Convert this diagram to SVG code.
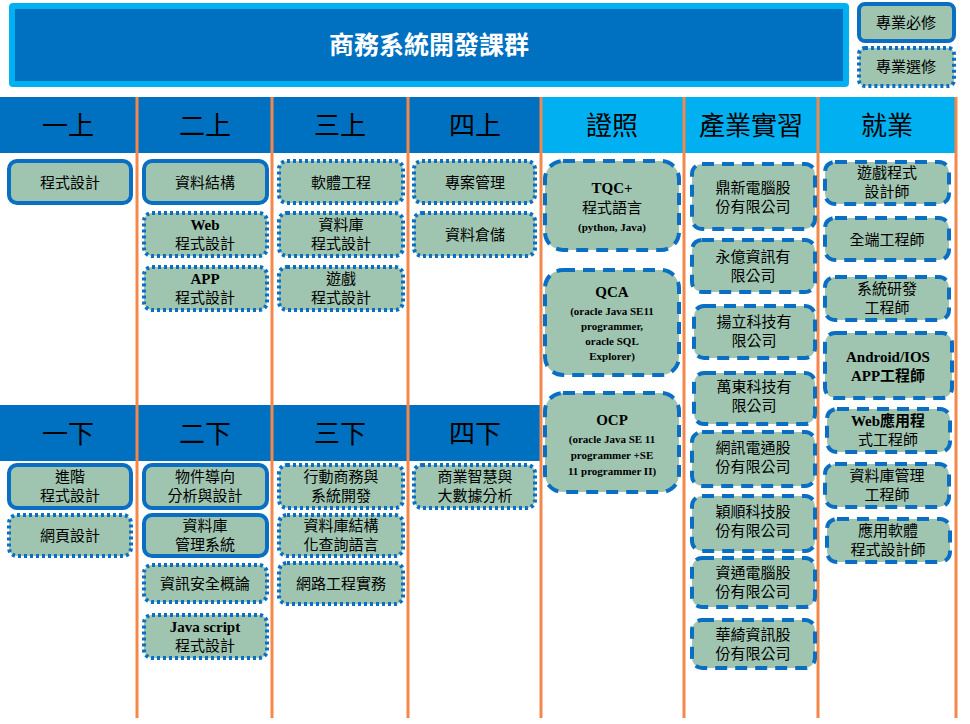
<svg xmlns="http://www.w3.org/2000/svg" width="970" height="724" viewBox="0 0 970 724">
<style>
text{font-family:"Liberation Serif","Noto Sans CJK TC",serif;fill:#000;text-anchor:middle}
.t{font-family:"Noto Sans CJK TC",sans-serif;font-size:15px}
.b{font-weight:bold;font-size:15px}
.s{font-weight:bold;font-size:11px}
.h{font-family:"Noto Sans CJK TC",sans-serif;font-size:26px}
.n rect{fill:#9fc5b0;stroke:#0a6fc2;stroke-width:4}
.d rect{stroke-dasharray:3 3}
.e rect{stroke-dasharray:12 8}
.dark{fill:#0070c0}
.light{fill:#00b0f0}
</style>
<rect width="970" height="724" fill="#fff"/>
<g id="title"><rect x="9" y="3" width="840" height="84" rx="4" fill="#00b0f0"/><rect x="15" y="9" width="828" height="72" fill="#0070c0"/>
<text x="429" y="54" style="font-family:'Noto Sans CJK TC',sans-serif;font-size:25px;fill:#fff;font-weight:bold">商務系統開發課群</text></g>
<g id="legend1" class="n"><rect x="859" y="4" width="95" height="37" rx="6"/><text class="t" x="906" y="28">專業必修</text></g>
<g id="legend2" class="n d"><rect x="859" y="48" width="95" height="38" rx="6"/><text class="t" x="906" y="72">專業選修</text></g>
<g id="headers">
<rect class="dark" x="0" y="97" width="541" height="56"/><rect class="light" x="541" y="97" width="415" height="56"/>
<rect class="dark" x="0" y="405" width="541" height="56"/>
<text class="h" x="68" y="135">一上</text><text class="h" x="205" y="135">二上</text><text class="h" x="340" y="135">三上</text><text class="h" x="475" y="135">四上</text>
<text class="h" x="612" y="135">證照</text><text class="h" x="751" y="135">產業實習</text><text class="h" x="887" y="135">就業</text>
<text class="h" x="68" y="443">一下</text><text class="h" x="205" y="443">二下</text><text class="h" x="340" y="443">三下</text><text class="h" x="475" y="443">四下</text>
</g>
<g id="lines" stroke="#f4884a" stroke-width="3">
<line x1="137" y1="97" x2="137" y2="718"/><line x1="272" y1="97" x2="272" y2="718"/><line x1="408" y1="97" x2="408" y2="718"/><line x1="541" y1="97" x2="541" y2="718"/><line x1="684" y1="97" x2="684" y2="718"/><line x1="818" y1="97" x2="818" y2="718"/><line x1="956" y1="97" x2="956" y2="718"/>
</g>
<g id="c1a" class="n"><rect x="9" y="161" width="122" height="42" rx="8"/><text class="t" x="70" y="188">程式設計</text></g>
<g id="c1b" class="n"><rect x="9" y="465" width="122" height="43" rx="8"/><text class="t" x="70" y="482">進階</text><text class="t" x="70" y="501">程式設計</text></g>
<g id="c1c" class="n d"><rect x="9" y="515" width="122" height="41" rx="8"/><text class="t" x="70" y="541">網頁設計</text></g>
<g id="c2a" class="n"><rect x="144" y="161" width="123" height="42" rx="8"/><text class="t" x="205" y="188">資料結構</text></g>
<g id="c2b" class="n d"><rect x="144" y="213" width="123" height="43" rx="8"/><text class="b" x="205" y="230">Web</text><text class="t" x="205" y="249">程式設計</text></g>
<g id="c2c" class="n d"><rect x="144" y="267" width="123" height="43" rx="8"/><text class="b" x="205" y="284">APP</text><text class="t" x="205" y="303">程式設計</text></g>
<g id="c2d" class="n"><rect x="144" y="465" width="123" height="43" rx="8"/><text class="t" x="205" y="482">物件導向</text><text class="t" x="205" y="501">分析與設計</text></g>
<g id="c2e" class="n"><rect x="144" y="515" width="123" height="41" rx="8"/><text class="t" x="205" y="531">資料庫</text><text class="t" x="205" y="550">管理系統</text></g>
<g id="c2f" class="n d"><rect x="144" y="565" width="123" height="37" rx="8"/><text class="t" x="205" y="589">資訊安全概論</text></g>
<g id="c2g" class="n d"><rect x="144" y="615" width="123" height="43" rx="8"/><text class="b" x="205" y="632">Java script</text><text class="t" x="205" y="651">程式設計</text></g>
<g id="c3a" class="n d"><rect x="279" y="161" width="124" height="42" rx="8"/><text class="t" x="341" y="188">軟體工程</text></g>
<g id="c3b" class="n d"><rect x="279" y="213" width="124" height="43" rx="8"/><text class="t" x="341" y="230">資料庫</text><text class="t" x="341" y="249">程式設計</text></g>
<g id="c3c" class="n d"><rect x="279" y="267" width="124" height="43" rx="8"/><text class="t" x="341" y="284">遊戲</text><text class="t" x="341" y="303">程式設計</text></g>
<g id="c3d" class="n d"><rect x="279" y="465" width="124" height="43" rx="8"/><text class="t" x="341" y="482">行動商務與</text><text class="t" x="341" y="501">系統開發</text></g>
<g id="c3e" class="n d"><rect x="279" y="515" width="124" height="41" rx="8"/><text class="t" x="341" y="531">資料庫結構</text><text class="t" x="341" y="550">化查詢語言</text></g>
<g id="c3f" class="n d"><rect x="279" y="563" width="124" height="41" rx="8"/><text class="t" x="341" y="589">網路工程實務</text></g>
<g id="c4a" class="n d"><rect x="414" y="161" width="121" height="42" rx="8"/><text class="t" x="475" y="188">專案管理</text></g>
<g id="c4b" class="n d"><rect x="414" y="213" width="121" height="43" rx="8"/><text class="t" x="475" y="240">資料倉儲</text></g>
<g id="c4c" class="n d"><rect x="414" y="465" width="121" height="43" rx="8"/><text class="t" x="475" y="482">商業智慧與</text><text class="t" x="475" y="501">大數據分析</text></g>
<g id="cert1" class="n e"><rect x="545" y="161" width="134" height="89" rx="18"/><text class="b" x="612" y="193">TQC+</text><text class="t" x="612" y="213">程式語言</text><text class="s" x="612" y="231">(python,  Java)</text></g>
<g id="cert2" class="n e"><rect x="545" y="270" width="134" height="105" rx="18"/><text class="b" x="612" y="297">QCA</text><text class="s" x="612" y="315">(oracle Java  SE11</text><text class="s" x="612" y="330">programmer,</text><text class="s" x="612" y="345">oracle SQL</text><text class="s" x="612" y="360">Explorer)</text></g>
<g id="cert3" class="n e"><rect x="545" y="393" width="134" height="99" rx="18"/><text class="b" x="612" y="425">OCP</text><text class="s" x="612" y="443">(oracle Java  SE 11</text><text class="s" x="612" y="459">programmer  +SE</text><text class="s" x="612" y="475">11 programmer II)</text></g>
<g id="co1" class="n e"><rect x="692" y="164" width="123" height="65" rx="10"/><text class="t" x="753" y="193">鼎新電腦股</text><text class="t" x="753" y="212">份有限公司</text></g>
<g id="co2" class="n e"><rect x="692" y="240" width="123" height="52" rx="10"/><text class="t" x="753" y="262">永億資訊有</text><text class="t" x="753" y="281">限公司</text></g>
<g id="co3" class="n e"><rect x="694" y="306" width="121" height="52" rx="10"/><text class="t" x="754" y="327">揚立科技有</text><text class="t" x="754" y="346">限公司</text></g>
<g id="co4" class="n e"><rect x="694" y="373" width="121" height="51" rx="10"/><text class="t" x="754" y="392">萬東科技有</text><text class="t" x="754" y="411">限公司</text></g>
<g id="co5" class="n e"><rect x="692" y="432" width="123" height="54" rx="10"/><text class="t" x="753" y="453">網訊電通股</text><text class="t" x="753" y="472">份有限公司</text></g>
<g id="co6" class="n e"><rect x="692" y="496" width="123" height="55" rx="10"/><text class="t" x="753" y="517">穎順科技股</text><text class="t" x="753" y="536">份有限公司</text></g>
<g id="co7" class="n e"><rect x="692" y="558" width="123" height="49" rx="10"/><text class="t" x="753" y="578">資通電腦股</text><text class="t" x="753" y="597">份有限公司</text></g>
<g id="co8" class="n e"><rect x="692" y="620" width="123" height="48" rx="10"/><text class="t" x="753" y="640">華綺資訊股</text><text class="t" x="753" y="659">份有限公司</text></g>
<g id="j1" class="n e"><rect x="825" y="162" width="124" height="42" rx="10"/><text class="t" x="887" y="178">遊戲程式</text><text class="t" x="887" y="197">設計師</text></g>
<g id="j2" class="n e"><rect x="825" y="218" width="124" height="42" rx="10"/><text class="t" x="887" y="245">全端工程師</text></g>
<g id="j3" class="n e"><rect x="825" y="277" width="124" height="43" rx="10"/><text class="t" x="887" y="294">系統研發</text><text class="t" x="887" y="313">工程師</text></g>
<g id="j4" class="n e"><rect x="825" y="333" width="127" height="65" rx="10"/><text class="b" x="888" y="362">Android/IOS</text><text class="b" x="888" y="381">APP工程師</text></g>
<g id="j5" class="n e"><rect x="827" y="409" width="123" height="43" rx="10"/><text class="b" x="888" y="426">Web應用程</text><text class="t" x="888" y="445">式工程師</text></g>
<g id="j6" class="n e"><rect x="825" y="464" width="124" height="43" rx="10"/><text class="t" x="887" y="481">資料庫管理</text><text class="t" x="887" y="500">工程師</text></g>
<g id="j7" class="n e"><rect x="827" y="519" width="123" height="43" rx="10"/><text class="t" x="888" y="536">應用軟體</text><text class="t" x="888" y="555">程式設計師</text></g>
</svg>
